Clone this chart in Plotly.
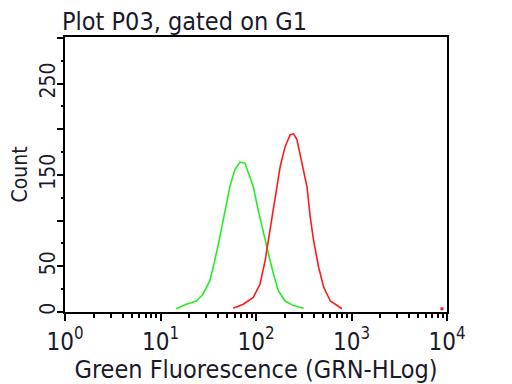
import plotly.graph_objects as go

# Data (log10 of fluorescence, count)
green_log = [1.165, 1.27, 1.376, 1.445, 1.516, 1.568, 1.621, 1.674, 1.726, 1.779, 1.832,
             1.884, 1.919, 1.972, 2.024, 2.077, 2.13, 2.182, 2.235, 2.305, 2.393, 2.498]
green_cnt = [3.6, 8.5, 12, 19.5, 34, 56, 82, 111, 137, 156, 164,
             163, 152, 137, 111, 89, 64, 42, 23, 12, 7, 4]
red_log = [1.761, 1.866, 1.972, 2.042, 2.095, 2.147, 2.2, 2.253, 2.305, 2.358, 2.393,
           2.428, 2.481, 2.534, 2.568, 2.603, 2.656, 2.709, 2.779, 2.849, 2.9]
red_cnt = [4, 8.5, 16, 30.5, 56, 89, 126, 159, 181, 194, 195,
           189, 163, 137, 104, 78, 49, 27, 12, 6.6, 3.6]
red_tail_log = [3.947]
red_tail_cnt = [3.5]

x_tickvals = [1, 10, 100, 1000, 10000]
x_ticktext = ["10<sup>0</sup>", "10<sup>1</sup>", "10<sup>2</sup>", "10<sup>3</sup>", "10<sup>4</sup>"]
x_minor = [m * 10 ** d for d in range(4) for m in range(2, 10)]
y_tickvals = [0, 50, 100, 150, 200, 250, 300]
y_ticktext = ["0", "50", "", "150", "", "250", ""]
y_minor = [25, 75, 125, 175, 225, 275]

FONT = "DejaVu Sans Condensed, DejaVu Sans, sans-serif"
TXT = "#1a1a2a"

fig = go.Figure()
fig.add_trace(go.Scatter(x=[10 ** v for v in green_log], y=green_cnt, mode="lines",
                         line=dict(color="#22ee22", width=1.6), showlegend=False))
fig.add_trace(go.Scatter(x=[10 ** v for v in red_log], y=red_cnt, mode="lines",
                         line=dict(color="#ff1a1a", width=1.6), showlegend=False))
fig.add_trace(go.Scatter(x=[10 ** v for v in red_tail_log], y=red_tail_cnt, mode="markers",
                         marker=dict(color="#ff1a1a", size=3, symbol="square"), showlegend=False))

# the page body has an 8px default margin, so the figure is drawn 8px in from the corner
fig.update_layout(
    width=504, height=376,
    margin=dict(l=57, r=65, t=29, b=72),
    paper_bgcolor="white", plot_bgcolor="white",
    font=dict(family=FONT, color=TXT),
    title=dict(text="Plot P03, gated on G1", xref="container", yref="container",
               x=54 / 504, xanchor="left", y=1 - 13 / 376, yanchor="middle",
               font=dict(size=25, family=FONT, color=TXT)),
    xaxis=dict(type="log", range=[0, 4], showgrid=False, zeroline=False, automargin=False,
               showline=True, linecolor="black", linewidth=1.5, mirror=True,
               ticks="outside", ticklen=7, tickcolor="black", tickwidth=1.5,
               tickvals=x_tickvals, ticktext=x_ticktext,
               tickfont=dict(size=24, family=FONT, color=TXT),
               minor=dict(tickvals=x_minor, ticks="outside", ticklen=4,
                          tickcolor="black", tickwidth=1.5, showgrid=False),
               title=dict(text="Green Fluorescence (GRN-HLog)", standoff=2,
                          font=dict(size=25, family=FONT, color=TXT))),
    yaxis=dict(range=[0, 301], showgrid=False, zeroline=False, automargin=False,
               showline=True, linecolor="black", linewidth=1.5, mirror=True,
               ticks="outside", ticklen=6, tickcolor="black", tickwidth=1.5,
               tickvals=y_tickvals, ticktext=y_ticktext, tickangle=-90,
               ticklabelstandoff=-6,
               tickfont=dict(size=21, family=FONT, color=TXT),
               minor=dict(tickvals=y_minor, ticks="outside", ticklen=2,
                          tickcolor="black", tickwidth=2, showgrid=False),
               title=dict(text="Count", standoff=10,
                          font=dict(size=21, family=FONT, color=TXT))),
)

fig.write_html("out.html")
